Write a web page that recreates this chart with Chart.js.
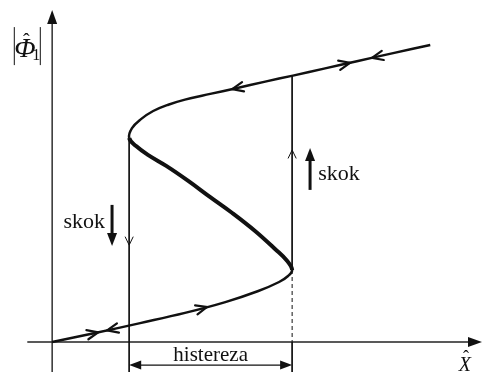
<!DOCTYPE html>
<html>
<head>
<meta charset="utf-8">
<script src="https://cdn.jsdelivr.net/npm/chart.js@4"></script>
<style>
  html, body { margin: 0; padding: 0; background: #fff; }
</style>
</head>
<body>
<canvas id="hyst" width="482" height="372"></canvas>
<script>
// amplitude |Phi1| against X: lower stable branch, unstable middle, upper stable branch
const lowerX = [0, 1.055, 2.16, 3.26, 4.25, 5.06, 5.57, 5.79, 5.89];
const lowerY = [0, 0.30, 0.63, 0.97, 1.33, 1.70, 2.00, 2.20, 2.40];
const middleX = [5.89, 5.77, 5.47, 4.98, 4.42, 3.88, 3.34, 2.80, 2.36, 2.06, 1.89];
const middleY = [2.40, 2.70, 3.10, 3.70, 4.30, 4.83, 5.37, 5.87, 6.23, 6.53, 6.80];
const upperX = [1.89, 1.96, 2.18, 2.48, 2.85, 3.26, 3.88, 4.49, 5.23, 5.91, 6.70, 7.48, 8.37, 9.28];
const upperY = [6.80, 7.13, 7.43, 7.70, 7.91, 8.08, 8.27, 8.45, 8.68, 8.88, 9.12, 9.36, 9.63, 9.90];

// jump points (turning points of the curve)
const jumpDownX = 1.89;
const jumpUpX = 5.89;

// direction markers along the branches
const arrowBranch = ['lower', 'lower', 'lower', 'upper', 'upper', 'upper'];
const arrowAt = [1.13, 1.35, 3.80, 4.42, 7.31, 7.85];
const arrowDir = [1, -1, 1, -1, 1, -1];

const labels = { skok: 'skok', hyst: 'histereza', x: 'X', y: 'Φ', ySub: '1' };

const xMin = -1.28, xMax = 10.55;
const yMin = -1.0, yMax = 11.4;

let curve = [];
lowerX.forEach((x, i) => curve.push({ x: x, y: lowerY[i] }));
middleX.forEach((x, i) => { if (i > 0) curve.push({ x: x, y: middleY[i] }); });
upperX.forEach((x, i) => { if (i > 0) curve.push({ x: x, y: upperY[i] }); });
const midStart = lowerX.length - 1;
const midEnd = midStart + middleX.length - 1;

function interp(xs, ys, x) {
  for (let i = 0; i < xs.length - 1; i++) {
    if (x >= xs[i] && x <= xs[i + 1]) {
      let t = (x - xs[i]) / (xs[i + 1] - xs[i]);
      return ys[i] + t * (ys[i + 1] - ys[i]);
    }
  }
  return ys[ys.length - 1];
}

const upperAtJump = interp(upperX, upperY, jumpUpX);
const lowerAtJump = interp(lowerX, lowerY, jumpUpX);
const midAtJumpDown = middleY[middleY.length - 1];

const ink = '#111';
const serif = '"Liberation Serif", "DejaVu Serif", serif';

function chevron(ctx, px, py, ang, len, spread, width) {
  ctx.save();
  ctx.strokeStyle = ink;
  ctx.lineWidth = width;
  ctx.lineCap = 'round';
  ctx.beginPath();
  ctx.moveTo(px - len * Math.cos(ang - spread), py - len * Math.sin(ang - spread));
  ctx.lineTo(px, py);
  ctx.lineTo(px - len * Math.cos(ang + spread), py - len * Math.sin(ang + spread));
  ctx.stroke();
  ctx.restore();
}

function headFilled(ctx, px, py, ang, len, half) {
  ctx.beginPath();
  ctx.moveTo(px, py);
  ctx.lineTo(px - len * Math.cos(ang) + half * Math.sin(ang), py - len * Math.sin(ang) - half * Math.cos(ang));
  ctx.lineTo(px - len * Math.cos(ang) - half * Math.sin(ang), py - len * Math.sin(ang) + half * Math.cos(ang));
  ctx.closePath();
  ctx.fill();
}

const sketch = {
  id: 'sketch',
  beforeDatasetsDraw(chart) {
    const ctx = chart.ctx, sx = chart.scales.x, sy = chart.scales.y;
    const ox = sx.getPixelForValue(0), oy = sy.getPixelForValue(0);
    ctx.save();
    ctx.strokeStyle = '#222';
    ctx.fillStyle = '#111';
    ctx.lineWidth = 1.4;
    // x axis
    ctx.beginPath();
    ctx.moveTo(sx.getPixelForValue(-0.61), oy);
    ctx.lineTo(sx.getPixelForValue(10.35), oy);
    ctx.stroke();
    headFilled(ctx, sx.getPixelForValue(xMax), oy, 0, 14, 5);
    // y axis
    ctx.beginPath();
    ctx.moveTo(ox, sy.getPixelForValue(yMin));
    ctx.lineTo(ox, sy.getPixelForValue(10.8));
    ctx.stroke();
    headFilled(ctx, ox, sy.getPixelForValue(11.07), -Math.PI / 2, 14, 5);
    ctx.restore();
  },
  afterDatasetsDraw(chart) {
    const ctx = chart.ctx, sx = chart.scales.x, sy = chart.scales.y;
    const P = (x, y) => [sx.getPixelForValue(x), sy.getPixelForValue(y)];

    // direction chevrons on the branches
    arrowAt.forEach((x, i) => {
      const xs = arrowBranch[i] === 'lower' ? lowerX : upperX;
      const ys = arrowBranch[i] === 'lower' ? lowerY : upperY;
      const a = P(x - 0.05, interp(xs, ys, x - 0.05));
      const b = P(x + 0.05, interp(xs, ys, x + 0.05));
      let ang = Math.atan2(b[1] - a[1], b[0] - a[0]);
      if (arrowDir[i] < 0) ang += Math.PI;
      const t = P(x, interp(xs, ys, x));
      chevron(ctx, t[0], t[1], ang, 12, 0.4, 2.2);
    });

    // chevrons on the jump lines
    let d = P(jumpDownX, 3.23);
    chevron(ctx, d[0], d[1], Math.PI / 2, 9, 0.45, 1);
    let u = P(jumpUpX, 6.4);
    chevron(ctx, u[0], u[1], -Math.PI / 2, 9, 0.45, 1);

    ctx.save();
    ctx.fillStyle = ink;
    ctx.strokeStyle = ink;

    // bold "skok" arrows
    ctx.lineWidth = 3;
    let a0 = P(6.33, 5.07), a1 = P(6.33, 6.2);
    ctx.beginPath(); ctx.moveTo(a0[0], a0[1]); ctx.lineTo(a1[0], a1[1]); ctx.stroke();
    let at = P(6.33, 6.47);
    headFilled(ctx, at[0], at[1], -Math.PI / 2, 13, 5);
    let b0 = P(1.47, 4.57), b1 = P(1.47, 3.45);
    ctx.beginPath(); ctx.moveTo(b0[0], b0[1]); ctx.lineTo(b1[0], b1[1]); ctx.stroke();
    let bt = P(1.47, 3.2);
    headFilled(ctx, bt[0], bt[1], Math.PI / 2, 13, 5);

    // hysteresis width arrow
    ctx.lineWidth = 1.2;
    let h0 = P(jumpDownX, -0.77), h1 = P(jumpUpX, -0.77);
    ctx.beginPath(); ctx.moveTo(h0[0] + 6, h0[1]); ctx.lineTo(h1[0] - 6, h1[1]); ctx.stroke();
    headFilled(ctx, h0[0], h0[1], Math.PI, 12, 4.5);
    headFilled(ctx, h1[0], h1[1], 0, 12, 4.5);

    // texts
    ctx.textBaseline = 'alphabetic';
    ctx.font = '22px ' + serif;
    ctx.textAlign = 'left';
    let s1 = P(6.53, 5.4);
    ctx.fillText(labels.skok, s1[0], s1[1]);
    ctx.textAlign = 'right';
    let s2 = P(1.30, 3.8);
    ctx.fillText(labels.skok, s2[0], s2[1]);
    ctx.font = '21px ' + serif;
    ctx.textAlign = 'center';
    let hs = P((jumpDownX + jumpUpX) / 2, -0.63);
    ctx.fillText(labels.hyst, hs[0], hs[1]);

    // x axis title with hat
    let xl = P(10.13, -0.97);
    ctx.font = 'italic 20px ' + serif;
    ctx.fillText(labels.x, xl[0], xl[1]);
    ctx.font = '18px ' + serif;
    ctx.fillText('ˆ', xl[0] + 1, xl[1] - 8);

    // y axis title |Phi1| with hat
    let yl = P(-0.61, 9.83);
    ctx.lineWidth = 1;
    ctx.beginPath();
    ctx.moveTo(yl[0] - 13, yl[1] - 20); ctx.lineTo(yl[0] - 13, yl[1] + 18);
    ctx.moveTo(yl[0] + 13, yl[1] - 20); ctx.lineTo(yl[0] + 13, yl[1] + 18);
    ctx.stroke();
    ctx.font = 'italic 28px ' + serif;
    ctx.fillText(labels.y, yl[0] - 2.5, yl[1] + 10);
    ctx.font = '20px ' + serif;
    ctx.fillText('ˆ', yl[0] - 1, yl[1] + 1);
    ctx.font = '16px ' + serif;
    ctx.textAlign = 'left';
    ctx.fillText(labels.ySub, yl[0] + 5, yl[1] + 13);
    ctx.restore();
  }
};

const ctx = document.getElementById('hyst').getContext('2d');
new Chart(ctx, {
  type: 'scatter',
  data: {
    datasets: [
      {
        data: curve,
        showLine: true,
        borderColor: ink,
        borderWidth: 2.5,
        tension: 0.4,
        pointRadius: 0,
        clip: false,
        segment: {
          borderWidth: c => (c.p0DataIndex >= midStart && c.p0DataIndex < midEnd) ? 4 : 2.5
        }
      },
      {
        data: [{ x: jumpDownX, y: midAtJumpDown }, { x: jumpDownX, y: yMin }],
        showLine: true, borderColor: ink, borderWidth: 1, pointRadius: 0, clip: false
      },
      {
        data: [{ x: jumpUpX, y: upperAtJump }, { x: jumpUpX, y: lowerAtJump }],
        showLine: true, borderColor: ink, borderWidth: 1, pointRadius: 0, clip: false
      },
      {
        data: [{ x: jumpUpX, y: lowerAtJump }, { x: jumpUpX, y: 0 }],
        showLine: true, borderColor: ink, borderWidth: 1, borderDash: [4, 3], pointRadius: 0, clip: false
      },
      {
        data: [{ x: jumpUpX, y: 0 }, { x: jumpUpX, y: yMin }],
        showLine: true, borderColor: ink, borderWidth: 1, pointRadius: 0, clip: false
      }
    ]
  },
  options: {
    responsive: false,
    animation: false,
    devicePixelRatio: 1,
    layout: { padding: 0 },
    plugins: { legend: { display: false }, tooltip: { enabled: false } },
    scales: {
      x: { type: 'linear', display: false, min: xMin, max: xMax },
      y: { type: 'linear', display: false, min: yMin, max: yMax }
    }
  },
  plugins: [sketch]
});
</script>
</body>
</html>
